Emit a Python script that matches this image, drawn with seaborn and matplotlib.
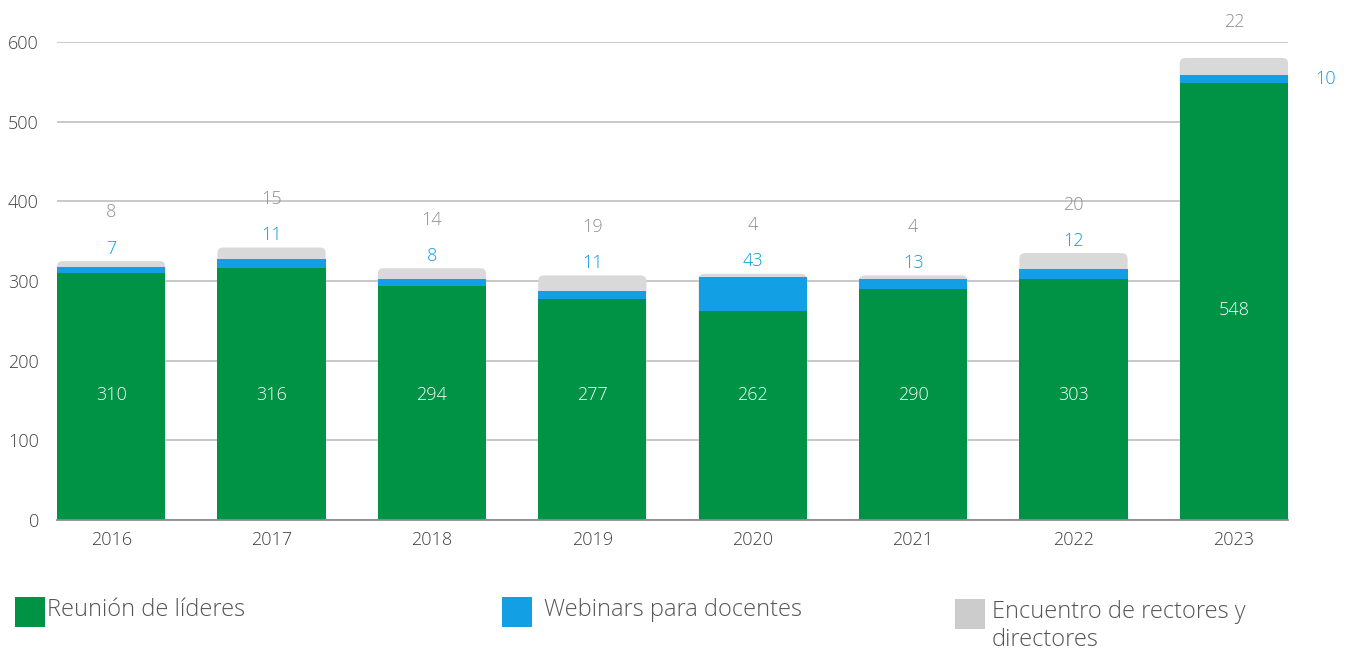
import numpy as np
import pandas as pd
import seaborn as sns
import matplotlib.pyplot as plt
from matplotlib.patches import FancyBboxPatch, Rectangle

years = ["2016", "2017", "2018", "2019", "2020", "2021", "2022", "2023"]
reunion = [310, 316, 294, 277, 262, 290, 303, 548]
webinars = [7, 11, 8, 11, 43, 13, 12, 10]
encuentro = [8, 15, 14, 19, 4, 4, 20, 22]
legend_labels = ["Reunión de líderes", "Webinars para docentes",
                 "Encuentro de rectores y\ndirectores"]

GREEN = "#009245"
BLUE = "#129fe3"
GREY = "#d9d9d9"
LEGEND_GREY = "#cccccc"

df = pd.DataFrame({"year": years, "reunion": reunion,
                   "webinars": webinars, "encuentro": encuentro})
df["mid"] = df["reunion"] + df["webinars"]
df["total"] = df["mid"] + df["encuentro"]

sns.set_theme(style="white")
plt.rcParams["font.family"] = ["Open Sans", "DejaVu Sans"]
plt.rcParams["font.weight"] = "light"

fig = plt.figure(figsize=(13.52, 6.55), dpi=100)
ax = fig.add_axes([57 / 1352, 1 - 520 / 655, (1288 - 57) / 1352, (520 - 42) / 655])

width = 0.675
sns.barplot(data=df, x="year", y="total", color=GREY, width=width,
            saturation=1, ax=ax, zorder=2, linewidth=0)
# swap grey bars for rounded-top boxes
for p in list(ax.patches):
    x0, w, h = p.get_x(), p.get_width(), p.get_height()
    p.remove()
    ax.add_patch(FancyBboxPatch((x0, 0), w, h,
                                boxstyle="round,pad=0,rounding_size=0.035",
                                mutation_aspect=200, fc=GREY, ec="none", zorder=2))
sns.barplot(data=df, x="year", y="mid", color=BLUE, width=width,
            saturation=1, ax=ax, zorder=3, linewidth=0)
sns.barplot(data=df, x="year", y="reunion", color=GREEN, width=width,
            saturation=1, ax=ax, zorder=4, linewidth=0)

ax.set_xlim(-width / 2, len(years) - 1 + width / 2)
ax.set_ylim(0, 600)
ax.set_yticks(range(0, 601, 100))
ax.set_xlabel("")
ax.set_ylabel("")
ax.grid(axis="y", color="#c4c4c4", lw=1.3, zorder=0)
ax.grid(axis="x", visible=False)
for s in ["top", "right", "left"]:
    ax.spines[s].set_visible(False)
ax.spines["bottom"].set_color("#8c8c8c")
ax.spines["bottom"].set_linewidth(1.3)
ax.spines["bottom"].set_zorder(5)
ax.tick_params(axis="y", length=0, pad=13, labelsize=13, labelcolor="#404040")
ax.tick_params(axis="x", length=0, pad=8, labelsize=13, labelcolor="#404040")

for i, row in df.iterrows():
    gy = row["reunion"] * 0.48 if row["reunion"] > 400 else 157
    ax.text(i, gy, str(row["reunion"]), color="white", ha="center",
            va="center", fontsize=13, zorder=6)
    if row["reunion"] > 400:
        ax.annotate(str(row["webinars"]), (i + width / 2, row["reunion"] + row["webinars"] / 2),
                    xytext=(27, 0), textcoords="offset points", ha="center",
                    va="center", color="#0f9be0", fontsize=13, annotation_clip=False)
        ax.annotate(str(row["encuentro"]), (i, row["total"]), xytext=(0, 26),
                    textcoords="offset points", ha="center", va="center",
                    color="#8f8f8f", fontsize=13, annotation_clip=False)
    else:
        ax.annotate(str(row["webinars"]), (i, row["total"]), xytext=(0, 9),
                    textcoords="offset points", ha="center", va="center",
                    color="#0f9be0", fontsize=13, annotation_clip=False)
        ax.annotate(str(row["encuentro"]), (i, row["total"]), xytext=(0, 35),
                    textcoords="offset points", ha="center", va="center",
                    color="#8f8f8f", fontsize=13, annotation_clip=False)

# legend drawn by hand along the bottom
W, H = 1352, 655
for (sx, sy, txt_x, col, lab) in [(15, 597, 47, GREEN, legend_labels[0]),
                                  (502, 597, 544, BLUE, legend_labels[1]),
                                  (955, 599, 992, LEGEND_GREY, legend_labels[2])]:
    fig.add_artist(Rectangle((sx / W, 1 - (sy + 30) / H), 30 / W, 30 / H,
                             transform=fig.transFigure, fc=col, ec="none"))
    fig.text(txt_x / W, 1 - (sy + 1) / H, lab, ha="left", va="top",
             fontsize=17, color="#555555", linespacing=1.25)

fig.savefig("out.png", dpi=100)
